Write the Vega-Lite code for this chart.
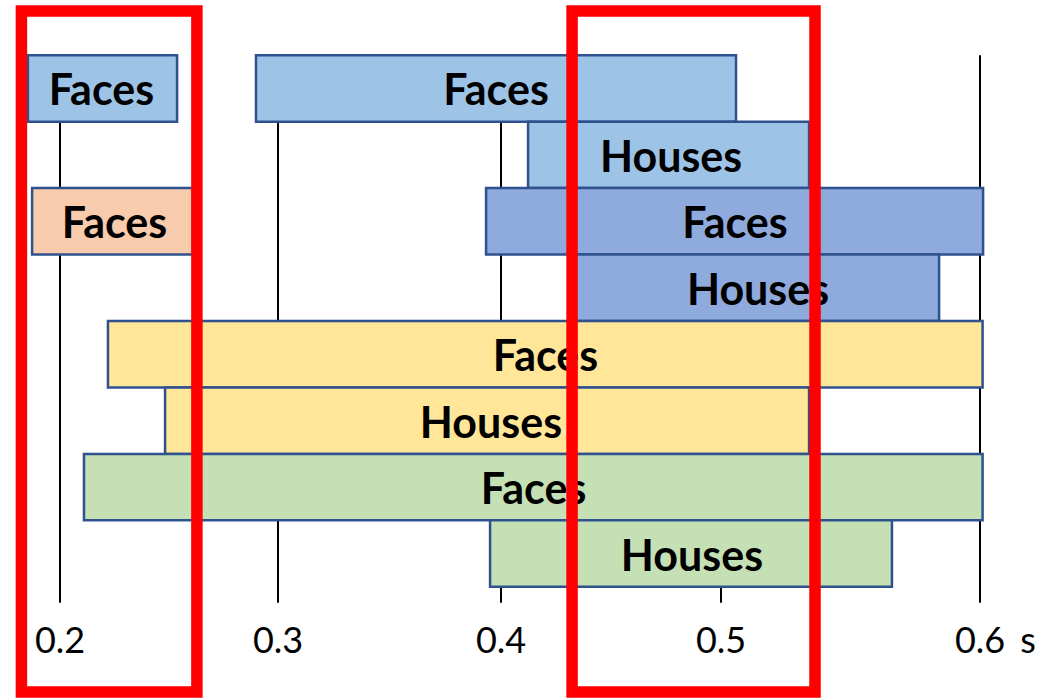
{
  "$schema": "https://vega.github.io/schema/vega-lite/v6.json",
  "width": 1050,
  "height": 699,
  "autosize": {"type": "fit", "contains": "padding"},
  "padding": {"left": 0, "right": 0, "top": 5, "bottom": 1},
  "background": "white",
  "config": {"view": {"stroke": null}},
  "datasets": {
    "bars": [
      {"row": "1", "group": "g1", "label": "Faces", "start": 0.1853, "end": 0.2537, "label_at": 0.219},
      {"row": "1", "group": "g1", "label": "Faces", "start": 0.2899, "end": 0.5058, "label_at": 0.3978},
      {"row": "2", "group": "g1", "label": "Houses", "start": 0.4123, "end": 0.534, "label_at": 0.4773},
      {"row": "3", "group": "g2", "label": "Faces", "start": 0.1872, "end": 0.261, "label_at": 0.225},
      {"row": "3", "group": "g3", "label": "Faces", "start": 0.3933, "end": 0.6012, "label_at": 0.5054},
      {"row": "4", "group": "g3", "label": "Houses", "start": 0.4336, "end": 0.5842, "label_at": 0.5143},
      {"row": "5", "group": "g4", "label": "Faces", "start": 0.222, "end": 0.601, "label_at": 0.4202},
      {"row": "6", "group": "g4", "label": "Houses", "start": 0.2482, "end": 0.534, "label_at": 0.3955},
      {"row": "7", "group": "g5", "label": "Faces", "start": 0.211, "end": 0.601, "label_at": 0.4148},
      {"row": "8", "group": "g5", "label": "Houses", "start": 0.3951, "end": 0.566, "label_at": 0.4868}
    ],
    "ticks": [
      {"t": 0.2, "label": "0.2"},
      {"t": 0.3, "label": "0.3"},
      {"t": 0.4, "label": "0.4"},
      {"t": 0.5, "label": "0.5"},
      {"t": 0.6, "label": "0.6"}
    ],
    "windows": [
      {"start": 0.1823, "end": 0.2628},
      {"start": 0.4323, "end": 0.5363}
    ]
  },
  "layer": [
    {
      "data": {"name": "ticks"},
      "mark": {"type": "rule", "color": "black", "strokeWidth": 2},
      "encoding": {
        "x": {
          "field": "t",
          "type": "quantitative",
          "axis": null,
          "scale": {
            "domain": [0.2, 0.3, 0.4, 0.5, 0.6],
            "range": [60, 278, 501, 721, 980],
            "nice": false,
            "zero": false,
            "clamp": false
          }
        },
        "y": {
          "datum": "1",
          "type": "ordinal",
          "bandPosition": 0,
          "axis": null,
          "scale": {
            "domain": ["1", "2", "3", "4", "5", "6", "7", "8", "ticks"],
            "paddingInner": 0,
            "paddingOuter": 0.624,
            "align": 0.533,
            "round": false
          }
        },
        "y2": {"datum": "ticks", "bandPosition": 0.24}
      }
    },
    {
      "data": {"name": "bars"},
      "mark": {"type": "rect", "stroke": "#2F528F", "strokeWidth": 2.5},
      "encoding": {
        "x": {"field": "start", "type": "quantitative"},
        "x2": {"field": "end"},
        "y": {"field": "row", "type": "ordinal"},
        "color": {
          "field": "group",
          "type": "nominal",
          "legend": null,
          "scale": {
            "domain": ["g1", "g2", "g3", "g4", "g5"],
            "range": ["#9DC3E6", "#F8CBAD", "#8FAADC", "#FFE699", "#C5E0B4"]
          }
        }
      }
    },
    {
      "data": {"name": "bars"},
      "mark": {"type": "text", "font": "Lato", "fontWeight": "bold", "fontSize": 43, "color": "black", "baseline": "middle", "align": "center", "dy": 4},
      "encoding": {
        "x": {"field": "label_at", "type": "quantitative"},
        "y": {"field": "row", "type": "ordinal"},
        "text": {"field": "label"}
      }
    },
    {
      "data": {"name": "ticks"},
      "mark": {"type": "text", "font": "Lato", "fontSize": 36, "color": "black", "baseline": "middle", "align": "center", "dy": 22},
      "encoding": {
        "x": {"field": "t", "type": "quantitative"},
        "y": {"datum": "ticks", "type": "ordinal"},
        "text": {"field": "label"}
      }
    },
    {
      "data": {"values": [{"t": 0.6, "unit": "s"}]},
      "mark": {"type": "text", "font": "Lato", "fontSize": 36, "color": "black", "baseline": "middle", "align": "center", "dx": 48, "dy": 22},
      "encoding": {
        "x": {"field": "t", "type": "quantitative"},
        "y": {"datum": "ticks", "type": "ordinal"},
        "text": {"field": "unit"}
      }
    },
    {
      "data": {"name": "windows"},
      "mark": {"type": "rect", "filled": false, "stroke": "#FF0000", "strokeWidth": 11.5},
      "encoding": {
        "x": {"field": "start", "type": "quantitative"},
        "x2": {"field": "end"}
      }
    }
  ]
}
